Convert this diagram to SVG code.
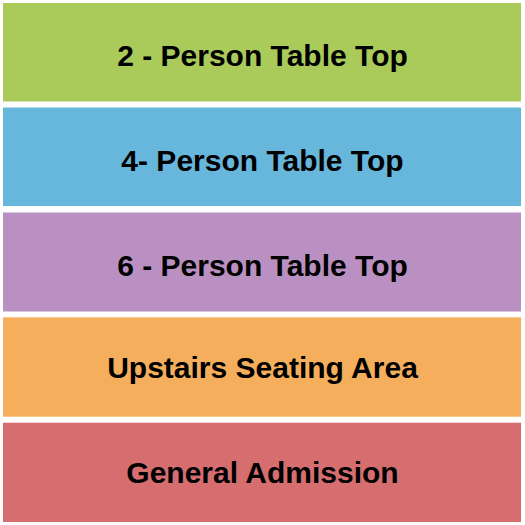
<svg xmlns="http://www.w3.org/2000/svg" width="525" height="525" viewBox="0 0 525 525">
<style>
  .sec { stroke: none; }
  .lbl { font-family: "Liberation Sans", Arial, sans-serif; font-weight: bold; font-size: 30px; fill: #000; text-anchor: middle; }
</style>
<rect x="0" y="0" width="525" height="525" fill="#ffffff"/>
<g id="two-person">
  <rect class="sec" x="3" y="3" width="518" height="98.5" fill="#aaca5a"/>
  <text class="lbl" x="262.5" y="65.5">2 - Person Table Top</text>
</g>
<g id="four-person">
  <rect class="sec" x="3" y="107.5" width="518" height="98.5" fill="#67b7dd"/>
  <text class="lbl" x="262.5" y="171">4- Person Table Top</text>
</g>
<g id="six-person">
  <rect class="sec" x="3" y="212.5" width="518" height="99" fill="#ba90c2"/>
  <text class="lbl" x="262.5" y="275.5">6 - Person Table Top</text>
</g>
<g id="upstairs">
  <rect class="sec" x="3" y="317.3" width="518" height="99.4" fill="#f5af5c"/>
  <text class="lbl" x="262.5" y="377.5">Upstairs Seating Area</text>
</g>
<g id="general">
  <rect class="sec" x="3" y="422.7" width="518" height="99.3" fill="#d66e70"/>
  <text class="lbl" x="262.5" y="482.5">General Admission</text>
</g>
<g id="connectors"></g>
</svg>
